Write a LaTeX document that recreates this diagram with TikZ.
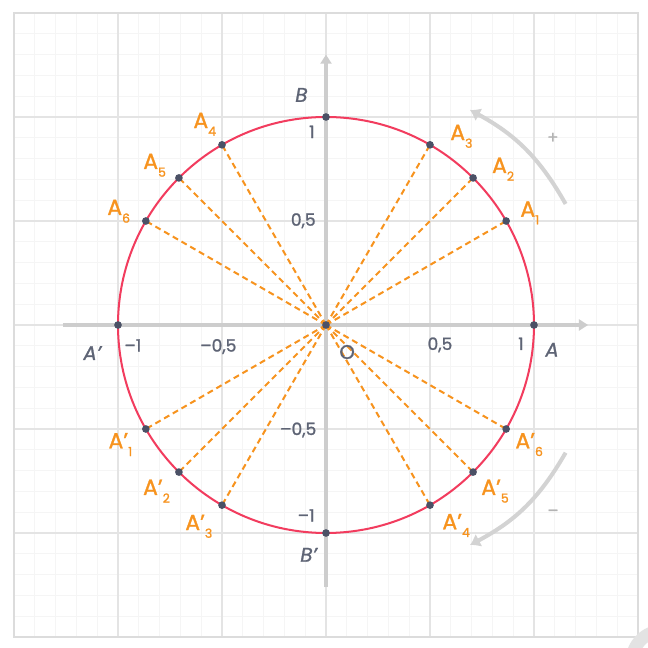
\documentclass[tikz,border=0pt]{standalone}
\usepackage{fontspec}
\setmainfont{Poppins}[FakeBold=1.2]
\usetikzlibrary{arrows.meta}
\definecolor{gmaj}{HTML}{E4E4E4}
\definecolor{gmin}{HTML}{F5F5F5}
\definecolor{framec}{HTML}{DCDCDC}
\definecolor{axisc}{HTML}{CDCDCD}
\definecolor{circc}{HTML}{F23C5E}
\definecolor{orng}{HTML}{F7931E}
\definecolor{ptc}{HTML}{4B5166}
\definecolor{txtc}{HTML}{5E6475}
\definecolor{arrc}{HTML}{D3D3D3}
\newcommand{\sublab}[2]{#1\raisebox{-4.2pt}{\fontsize{6.8}{7}\selectfont #2}}
\begin{document}
\begin{tikzpicture}[x=4cm,y=4cm,
  ptdot/.style={circle,fill=ptc,inner sep=0pt,minimum size=4.2pt},
  olab/.style={text=orng,font=\fontsize{12}{13}\selectfont,inner sep=0pt,anchor=base west},
  numlab/.style={text=txtc,font=\fontsize{9.3}{10}\selectfont,inner sep=0pt,anchor=base east},
  ptname/.style={text=txtc,font=\itshape\fontsize{10.8}{12}\selectfont,inner sep=0pt,anchor=base west},
  ray/.style={orng,line width=1.1pt,dash pattern=on 3.3pt off 2.2pt},
  axisline/.style={axisc,line width=1.9pt,-{Triangle[length=5pt,width=6pt]}},
  turnarrow/.style={arrc,line width=2.2pt,-{Latex[length=5.5pt,width=8pt]}},
  signlab/.style={text=arrc!85!black,font=\fontsize{9}{10}\selectfont,inner sep=0pt}]
\useasboundingbox[fill=white] (-1.5673,-1.5529) rectangle (1.5481,1.5625);
% grid
\draw[gmin,line width=0.5pt] (-1.5,-1.5) grid[step=0.1] (1.5,1.5);
\draw[gmaj,line width=0.8pt] (-1.5,-1.5) grid[step=0.5] (1.5,1.5);
\draw[framec,line width=0.9pt] (-1.5,-1.5) rectangle (1.5,1.5);
% watermark in corner
\begin{scope}
\clip (-1.5673,-1.5529) rectangle (1.5481,1.5625);
\draw[gray!22,line width=7pt] (1.62,-1.62) circle (0.15);
\end{scope}
% axes
\coordinate (xl) at (-1.265,0);
\coordinate (xr) at (1.26,0);
\coordinate (yb) at (0,-1.26);
\coordinate (yt) at (0,1.30);
\draw[axisline] (xl) -- (xr);
\draw[axisline] (yb) -- (yt);
% circle
\coordinate (O) at (0,0);
\draw[circc,line width=1.1pt] (O) circle (1);
% points
\foreach \n/\a in {A1/30,A2/45,A3/60,A4/120,A5/135,A6/150,
                   B1/210,B2/225,B3/240,B4/300,B5/315,B6/330}
  {\coordinate (c\n) at (\a:1);}
\foreach \n in {A1,A2,A3,A4,A5,A6,B1,B2,B3,B4,B5,B6}
  {\draw[ray] (O) -- (c\n);}
\foreach \n in {A1,A2,A3,A4,A5,A6,B1,B2,B3,B4,B5,B6}
  {\node[ptdot] (p\n) at (c\n) {};}
\node[ptdot] (pA) at (0:1) {};
\node[ptdot] (pB) at (90:1) {};
\node[ptdot] (pAp) at (180:1) {};
\node[ptdot] (pBp) at (270:1) {};
\node[ptdot] (pO) at (O) {};
% orange labels
\node[olab] (lA1) at (0.933,0.521) {\sublab{A}{1}};
\node[olab] (lA2) at (0.797,0.731) {\sublab{A}{2}};
\node[olab] (lA3) at (0.596,0.889) {\sublab{A}{3}};
\node[olab] (lA4) at (-0.639,0.947) {\sublab{A}{4}};
\node[olab] (lA5) at (-0.880,0.750) {\sublab{A}{5}};
\node[olab] (lA6) at (-1.053,0.529) {\sublab{A}{6}};
\node[olab] (lB1) at (-1.047,-0.593) {\sublab{A’}{1}};
\node[olab] (lB2) at (-0.881,-0.817) {\sublab{A’}{2}};
\node[olab] (lB3) at (-0.678,-0.986) {\sublab{A’}{3}};
\node[olab] (lB4) at (0.558,-0.982) {\sublab{A’}{4}};
\node[olab] (lB5) at (0.745,-0.817) {\sublab{A’}{5}};
\node[olab] (lB6) at (0.909,-0.593) {\sublab{A’}{6}};
% gray point names
\node[ptname] (nB) at (-0.149,1.073) {B};
\node[ptname] (nA) at (1.053,-0.152) {A};
\node[ptname] (nAp) at (-1.168,-0.168) {A’};
\node[ptname] (nBp) at (-0.125,-1.138) {B’};
\node[ptname,font=\fontsize{10.8}{12}\selectfont] (nO) at (0.0625,-0.163) {O};
% tick numbers
\node[numlab] (ty1) at (-0.053,0.899) {1};
\node[numlab] (ty2) at (-0.048,0.477) {0,5};
\node[numlab] (ty3) at (-0.045,-0.529) {–0,5};
\node[numlab] (ty4) at (-0.053,-0.945) {–1};
\node[numlab] (tx1) at (-0.886,-0.128) {–1};
\node[numlab] (tx2) at (-0.429,-0.128) {–0,5};
\node[numlab] (tx3) at (0.609,-0.120) {0,5};
\node[numlab] (tx4) at (0.952,-0.120) {1};
% rotation arrows
\coordinate (r1s) at (1.152,0.582);
\coordinate (r1e) at (0.692,1.034);
\coordinate (r2s) at (1.152,-0.614);
\coordinate (r2e) at (0.692,-1.058);
\draw[turnarrow] (r1s) to[bend right=16] (r1e);
\draw[turnarrow] (r2s) to[bend left=16] (r2e);
\node[signlab] (plus) at (1.091,0.899) {+};
\node[signlab] (minus) at (1.091,-0.904) {–};
\end{tikzpicture}
\end{document}
